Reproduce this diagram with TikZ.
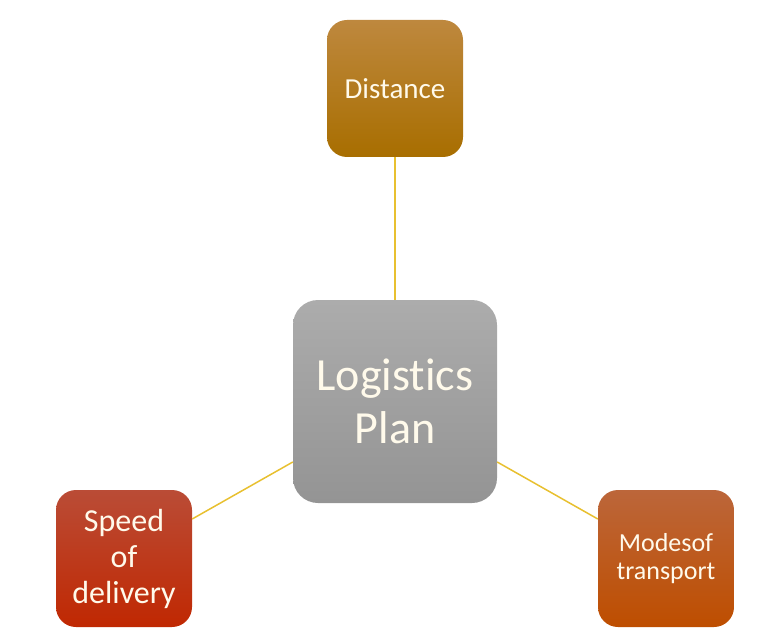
\documentclass[tikz,border=0pt]{standalone}
\usepackage{fontspec}
\setmainfont{Carlito}[Ligatures={NoCommon}]
\definecolor{linecol}{RGB}{232,192,48}
\definecolor{txt}{RGB}{255,250,235}
\definecolor{dtop}{RGB}{190,136,62}
\definecolor{dbot}{RGB}{168,110,0}
\definecolor{stop}{RGB}{186,76,54}
\definecolor{sbot}{RGB}{192,40,2}
\definecolor{mtop}{RGB}{188,102,58}
\definecolor{mbot}{RGB}{190,78,0}
\definecolor{gtop}{RGB}{172,172,172}
\definecolor{gbot}{RGB}{148,148,148}
\begin{document}
\begin{tikzpicture}[x=1pt,y=1pt,
  box/.style={rectangle, rounded corners=20pt, minimum width=136pt, minimum height=137pt,
    inner sep=0pt, align=center, text=txt},
  conn/.style={draw=linecol, line width=1.5pt}]
\useasboundingbox (0,0) rectangle (768,641);
\node[box, top color=dtop, bottom color=dbot, font=\fontsize{29}{34}\selectfont] (d) at (395,552.5) {Distance};
\node[box, rounded corners=25pt, minimum width=204pt, minimum height=203pt,
  top color=gtop, bottom color=gbot, font=\fontsize{46}{53}\selectfont] (c) at (395,239.5) {Logistics\\Plan};
\node[box, top color=stop, bottom color=sbot, font=\fontsize{32}{36}\selectfont] (s) at (124,82.5) {Speed\\of\\delivery};
\node[box, top color=mtop, bottom color=mbot, font=\fontsize{26}{28}\selectfont] (m) at (666,82.5) {Modesof\\transport};
\draw[conn] (d.south) -- (c.north);
\draw[conn] ([yshift=-60.5pt]c.west) -- ([yshift=39.5pt]s.east);
\draw[conn] ([yshift=-60.5pt]c.east) -- ([yshift=39.5pt]m.west);
\end{tikzpicture}
\end{document}
